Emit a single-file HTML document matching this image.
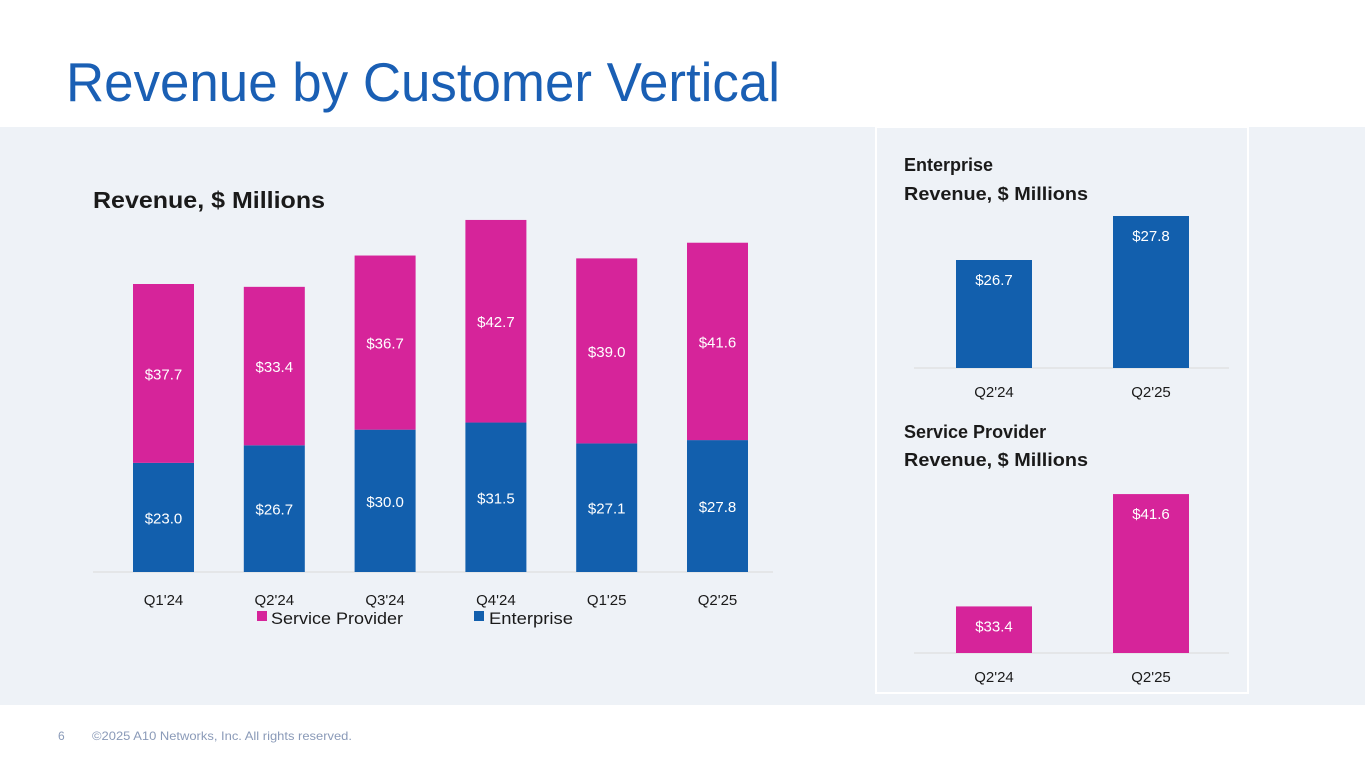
<!DOCTYPE html>
<html><head><meta charset="utf-8">
<style>
html,body{margin:0;padding:0;width:1365px;height:768px;overflow:hidden;background:#fff;font-family:"Liberation Sans",Calibri,sans-serif;}
</style></head>
<body>
<svg width="1365" height="768" xmlns="http://www.w3.org/2000/svg" font-family="Liberation Sans, sans-serif">
<text x="66" y="101" font-size="55" fill="#1a5fb4" textLength="714" lengthAdjust="spacingAndGlyphs">Revenue by Customer Vertical</text>
<rect x="0" y="127" width="1365" height="578" fill="#eef2f7"/>
<rect x="876" y="127" width="372" height="566" fill="#eef2f7" stroke="#ffffff" stroke-width="2"/>
<text x="93" y="208" font-size="23" font-weight="bold" fill="#1a1a1a" textLength="232" lengthAdjust="spacingAndGlyphs">Revenue, $ Millions</text>
<line x1="93" y1="572" x2="773" y2="572" stroke="#d9d9d9" stroke-width="1"/>
<g id="main"></g>
<rect x="257" y="611" width="10" height="10" fill="#d6249a"/>
<text x="271" y="624" font-size="17" fill="#1a1a1a" textLength="132" lengthAdjust="spacingAndGlyphs">Service Provider</text>
<rect x="474" y="611" width="10" height="10" fill="#125fad"/>
<text x="489" y="624" font-size="17" fill="#1a1a1a" textLength="84" lengthAdjust="spacingAndGlyphs">Enterprise</text>
<text font-size="18" font-weight="bold" fill="#1a1a1a"><tspan x="904" y="171">Enterprise</tspan><tspan x="904" y="200" textLength="184" lengthAdjust="spacingAndGlyphs">Revenue, $ Millions</tspan></text>
<line x1="914" y1="368" x2="1229" y2="368" stroke="#d9d9d9"/>
<g id="ent"></g>
<text font-size="18" font-weight="bold" fill="#1a1a1a"><tspan x="904" y="438">Service Provider</tspan><tspan x="904" y="466" textLength="184" lengthAdjust="spacingAndGlyphs">Revenue, $ Millions</tspan></text>
<line x1="914" y1="653" x2="1229" y2="653" stroke="#d9d9d9"/>
<g id="sp"></g>
<text x="58" y="740" font-size="12" fill="#8a9ab8">6</text>
<text x="92" y="740" font-size="12" fill="#8a9ab8" textLength="260" lengthAdjust="spacingAndGlyphs">©2025 A10 Networks, Inc. All rights reserved.</text>
</svg>
<script>
const categories = ["Q1'24","Q2'24","Q3'24","Q4'24","Q1'25","Q2'25"];
const enterprise = [23.0,26.7,30.0,31.5,27.1,27.8];
const serviceProvider = [37.7,33.4,36.7,42.7,39.0,41.6];
const entCategories = ["Q2'24","Q2'25"];
const entValues = [26.7,27.8];
const spCategories = ["Q2'24","Q2'25"];
const spValues = [33.4,41.6];

const NS="http://www.w3.org/2000/svg";
const BLUE="#125fad", PINK="#d6249a";
function mk(tag,attrs,parent){const e=document.createElementNS(NS,tag);for(const k in attrs)e.setAttribute(k,attrs[k]);parent.appendChild(e);return e;}

const main=document.getElementById('main');
const base=572, scale=288/60.7, x0=163.5, step=110.8, bw=61;
const xM=i=>x0+i*step, yM=v=>base-v*scale;
categories.forEach((c,i)=>{
  const e=enterprise[i], s=serviceProvider[i];
  const r1=mk('rect',{x:xM(i)-bw/2,y:yM(e),width:bw,height:base-yM(e),fill:BLUE},main);
  
  
  const r2=mk('rect',{x:xM(i)-bw/2,y:yM(e+s),width:bw,height:yM(e)-yM(e+s),fill:PINK},main);
  
  
  const t1=mk('text',{x:xM(i),y:(yM(e)+base)/2+6,'text-anchor':'middle','font-size':15,fill:'#fff'},main);
  t1.textContent='$'+e.toFixed(1);
  
  
  const t2=mk('text',{x:xM(i),y:(yM(e)+yM(e+s))/2+6,'text-anchor':'middle','font-size':15,fill:'#fff'},main);
  t2.textContent='$'+s.toFixed(1);
  
  
  const t3=mk('text',{x:xM(i),y:605,'text-anchor':'middle','font-size':15,fill:'#1a1a1a'},main);
  t3.textContent=c;
  
  
});

function small(gid,cats,vals,baseY,minV,sc,color,prefix){
  const g=document.getElementById(gid);
  const xs=i=>994+i*157, ys=v=>baseY-(v-minV)*sc, w=76;
  cats.forEach((c,i)=>{
    const r=mk('rect',{x:xs(i)-w/2,y:ys(vals[i]),width:w,height:baseY-ys(vals[i]),fill:color},g);
    
    
    const t=mk('text',{x:xs(i),y:ys(vals[i])+25,'text-anchor':'middle','font-size':15,fill:'#fff'},g);
    t.textContent='$'+vals[i].toFixed(1);
    
    
    const l=mk('text',{x:xs(i),y:baseY+29,'text-anchor':'middle','font-size':15,fill:'#1a1a1a'},g);
    l.textContent=c;
    
    
  });
}
small('ent',entCategories,entValues,368,24,40,BLUE,'enterprise');
small('sp',spCategories,spValues,653,30,13.7,PINK,'sp');
</script>
</body></html>
